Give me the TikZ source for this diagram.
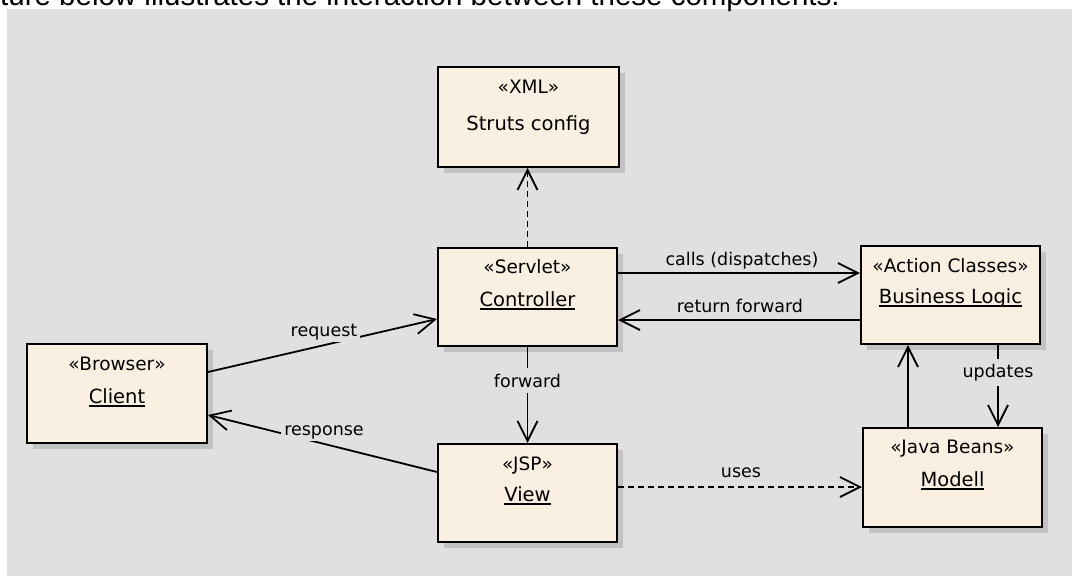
\documentclass[tikz,border=0pt]{standalone}
\usepackage{fontspec}
\setmainfont{DejaVu Sans}
\newfontfamily\topfont{Liberation Sans}
\usetikzlibrary{arrows.meta,shadows,calc}
\definecolor{bggray}{HTML}{E0E0E0}
\definecolor{boxfill}{HTML}{FAF0E2}
\definecolor{shadowgray}{HTML}{C2C2C2}
\newsavebox\ulbox
\newcommand\uln[1]{\sbox\ulbox{#1}\rlap{\rule[-3.5pt]{\wd\ulbox}{1.8pt}}\usebox\ulbox}
\begin{document}
\begin{tikzpicture}[x=1pt,y=-1pt,
  umlbox/.style={draw=black, line width=2pt, fill=boxfill, minimum width=179pt, minimum height=98pt, inner sep=0pt,
    general shadow={fill=shadowgray, shadow xshift=6pt, shadow yshift=-6pt}},
  stereo/.style={anchor=base, font=\fontsize{18.5}{20}\selectfont, inner sep=0pt},
  nm/.style={anchor=base, font=\fontsize{19.5}{22}\selectfont, inner sep=0pt},
  lbl/.style={anchor=base, font=\fontsize{17.5}{20}\selectfont, inner sep=0pt},
  cutlbl/.style={lbl, fill=bggray, inner xsep=3pt, inner ysep=3pt},
  conn/.style={line width=1.8pt, -{Straight Barb[length=20pt,width=20pt]}},
  dep/.style={conn, dash pattern=on 6pt off 4pt},
]
\useasboundingbox (0,0) rectangle (1072,576);
\clip (0,0) rectangle (1072,576);
\fill[bggray] (7,9) rectangle (1072,576);
\node[anchor=base west, inner sep=0pt, font=\topfont\fontsize{29.5}{32}\selectfont] (caption) at (0,5.5) {ture below illustrates the interaction between these components.};

% boxes
\node[umlbox, minimum width=181pt, minimum height=100pt] (struts) at (528.5,117) {};
\node[umlbox] (ctrl) at (527.5,297) {};
\node[umlbox, minimum width=180pt, minimum height=99pt] (client) at (117,393.5) {};
\node[umlbox] (view) at (527.5,493) {};
\node[umlbox] (bl) at (950.5,295) {};
\node[umlbox, minimum height=99pt] (model) at (952.5,477.5) {};

% box texts
\node[stereo] (struts-st) at (528.5,93) {«XML»};
\node[nm] (struts-nm) at (528.5,130) {Struts config};
\node[stereo] (ctrl-st) at (527.5,273) {«Servlet»};
\node[nm] (ctrl-nm) at (527.5,306) {\uln{Controller}};
\node[stereo] (client-st) at (117,370) {«Browser»};
\node[nm] (client-nm) at (117,403) {\uln{Client}};
\node[stereo] (view-st) at (527.5,470) {«JSP»};
\node[nm] (view-nm) at (527.5,501) {\uln{View}};
\node[stereo] (bl-st) at (950.5,272) {«Action Classes»};
\node[nm] (bl-nm) at (950.5,303) {\uln{Business Logic}};
\node[stereo] (model-st) at (952.5,453) {«Java Beans»};
\node[nm] (model-nm) at (952.5,486) {\uln{Modell}};

% connector end points
\coordinate (c1) at ([yshift=24pt]ctrl.east);
\coordinate (r1) at ([yshift=-25pt]bl.west);
\coordinate (u1) at ([yshift=6pt]view.east);
\coordinate (m1) at ([xshift=-44.5pt]model.north);
\coordinate (b1) at ([xshift=47.5pt]bl.south);

% connectors
\draw[dep] (ctrl.north) -- (ctrl.north |- struts.south);
\draw[conn] (c1) -- (c1 -| bl.west);
\draw[conn] (r1) -- (r1 -| ctrl.east);
\draw[conn] ([yshift=21.5pt]client.east) -- ([yshift=-22pt]ctrl.west);
\draw[conn] ([yshift=21pt]view.west) -- ([yshift=-21.5pt]client.east);
\draw[conn] (ctrl.south) -- (view.north);
\draw[conn] (b1) -- (b1 |- model.north);
\draw[conn] (m1) -- (m1 |- bl.south);
\draw[dep] (u1) -- (u1 -| model.west);

% labels
\node[lbl] (calls-lbl) at (742,265) {calls (dispatches)};
\node[lbl] (ret-lbl) at (740,312) {return forward};
\node[cutlbl, inner ysep=2.5pt] (req-lbl) at (324,336) {request};
\node[cutlbl, inner ysep=2.5pt] (resp-lbl) at (324,435) {response};
\node[cutlbl, inner ysep=6pt] (fwd-lbl) at (527.5,387) {forward};
\node[cutlbl, inner ysep=5pt] (upd-lbl) at (998,377) {updates};
\node[lbl] (uses-lbl) at (741,477) {uses};
\end{tikzpicture}
\end{document}
